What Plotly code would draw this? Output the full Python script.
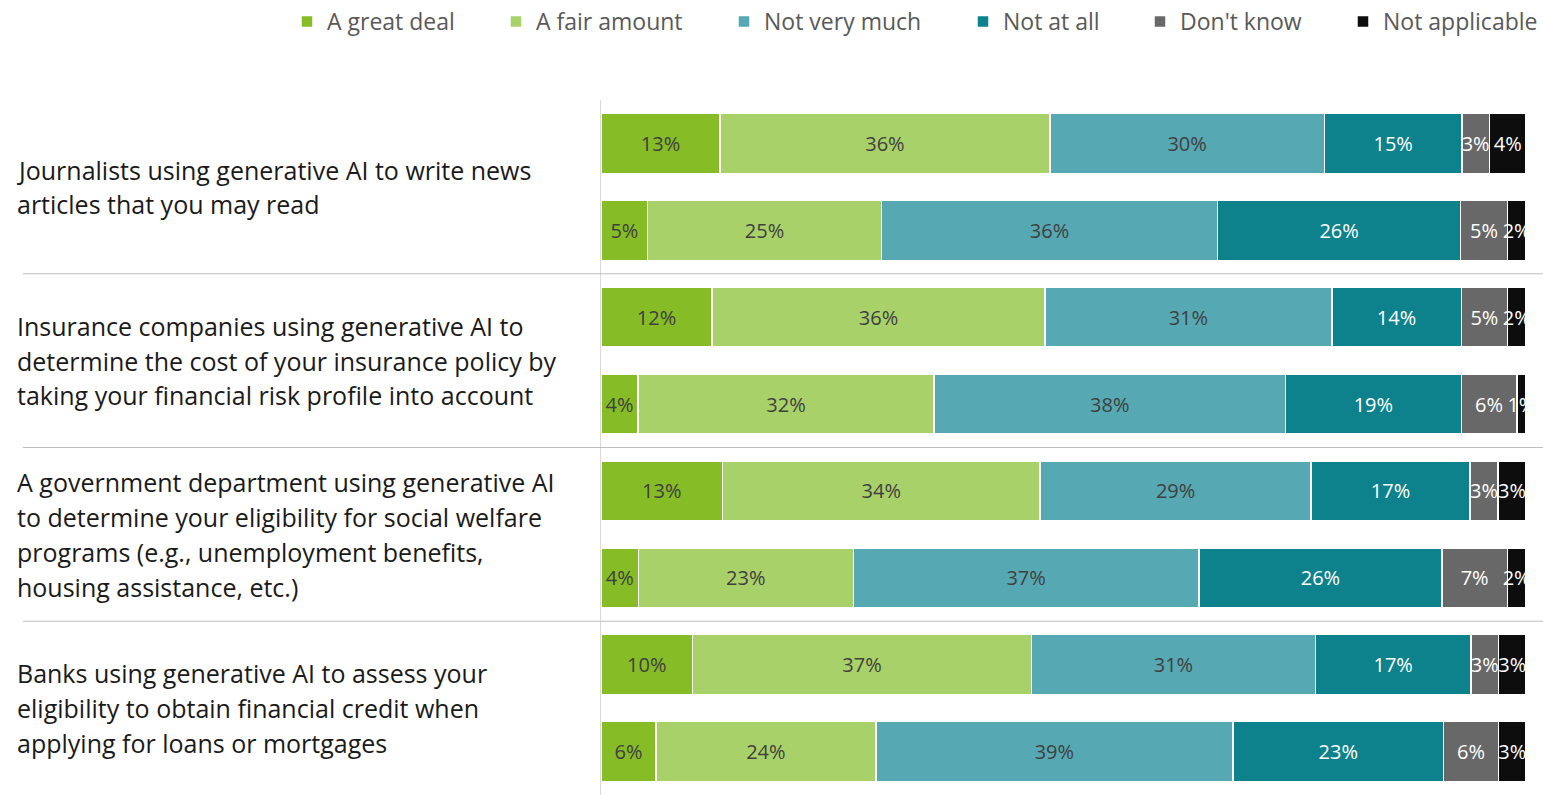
import plotly.graph_objects as go

series_names = ["A great deal", "A fair amount", "Not very much", "Not at all", "Don't know", "Not applicable"]
series_colors = ["#86BC25", "#A9D16A", "#56A9B3", "#0E828C", "#686868", "#0D0D0D"]
text_colors = ["#404040", "#404040", "#404040", "#FFFFFF", "#FFFFFF", "#FFFFFF"]
legend_ids = ["legend", "legend2", "legend3", "legend4", "legend5", "legend6"]
legend_text_left_px = [327, 536, 764, 1003, 1180, 1383]

categories = [
    ["Journalists using generative AI to write news", "articles that you may read"],
    ["Insurance companies using generative AI to", "determine the cost of your insurance policy by",
     "taking your financial risk profile into account"],
    ["A government department using generative AI", "to determine your eligibility for social welfare",
     "programs (e.g., unemployment benefits,", "housing assistance, etc.)"],
    ["Banks using generative AI to assess your", "eligibility to obtain financial credit when",
     "applying for loans or mortgages"],
]

# two bars per category (rows in top-to-bottom order)
a_great_deal = [13, 5, 12, 4, 13, 4, 10, 6]
a_fair_amount = [36, 25, 36, 32, 34, 23, 37, 24]
not_very_much = [30, 36, 31, 38, 29, 37, 31, 39]
not_at_all = [15, 26, 14, 19, 17, 26, 17, 23]
dont_know = [3, 5, 5, 6, 3, 7, 3, 6]
not_applicable = [4, 2, 2, 1, 3, 2, 3, 3]

series_values = [a_great_deal, a_fair_amount, not_very_much, not_at_all, dont_know, not_applicable]
rows = list(range(len(a_great_deal)))

FONT = "Open Sans"
FIG_W = 1543
PLOT_W = 925  # plot area width in px

fig = go.Figure()
for name, vals, col, tcol, lg in zip(series_names, series_values, series_colors, text_colors, legend_ids):
    fig.add_trace(go.Bar(
        y=rows, x=vals, name=name, orientation="h", legend=lg,
        marker=dict(color=col, line=dict(color="white", width=1.5)),
        text=[f"{v}%" for v in vals], textposition="inside", textangle=0,
        insidetextanchor="middle", constraintext="none",
        textfont=dict(family=FONT, size=20, color=tcol),
        cliponaxis=True, hoverinfo="skip",
    ))

annotations = []
line_step = 0.40
for i, lines in enumerate(categories):
    center = 2 * i + 0.5
    n = len(lines)
    for j, txt in enumerate(lines):
        annotations.append(dict(
            x=(15 - 601) / PLOT_W, xref="paper", xanchor="left",
            y=center + (j - (n - 1) / 2) * line_step, yref="y", yanchor="middle",
            text=txt, showarrow=False, align="left",
            font=dict(family=FONT, size=25, color="#1A1A1A"),
        ))

shapes = []
for k in range(1, len(categories)):
    shapes.append(dict(type="line", xref="paper", yref="y",
                       x0=(23 - 601) / PLOT_W, x1=(1543 - 601) / PLOT_W,
                       y0=2 * k - 0.5, y1=2 * k - 0.5,
                       line=dict(color="#BFBFBF", width=1.2)))

legend_style = dict(orientation="h", xref="container", yref="container",
                    xanchor="left", y=1.0, yanchor="top",
                    font=dict(family=FONT, size=23, color="#595959"),
                    traceorder="normal", itemwidth=30, bgcolor="rgba(0,0,0,0)")
legends = {lid: dict(x=(px - 40) / FIG_W, **legend_style)
           for lid, px in zip(legend_ids, legend_text_left_px)}

fig.update_layout(
    width=FIG_W, height=795,
    barmode="stack", barnorm="percent", bargap=0.31,
    margin=dict(l=601, r=17, t=100, b=0, autoexpand=False),
    paper_bgcolor="white", plot_bgcolor="white",
    xaxis=dict(range=[0, 100], visible=False, fixedrange=True),
    yaxis=dict(range=[7.5, -0.5], showticklabels=False, showgrid=False, zeroline=False,
               showline=True, linecolor="#D9D9D9", linewidth=1.2, ticks="", fixedrange=True),
    showlegend=True,
    annotations=annotations, shapes=shapes,
    **legends,
)

fig.write_html("out.html", config={"displayModeBar": False},
               post_script="document.body.style.margin='0';document.body.style.overflow='hidden';")
